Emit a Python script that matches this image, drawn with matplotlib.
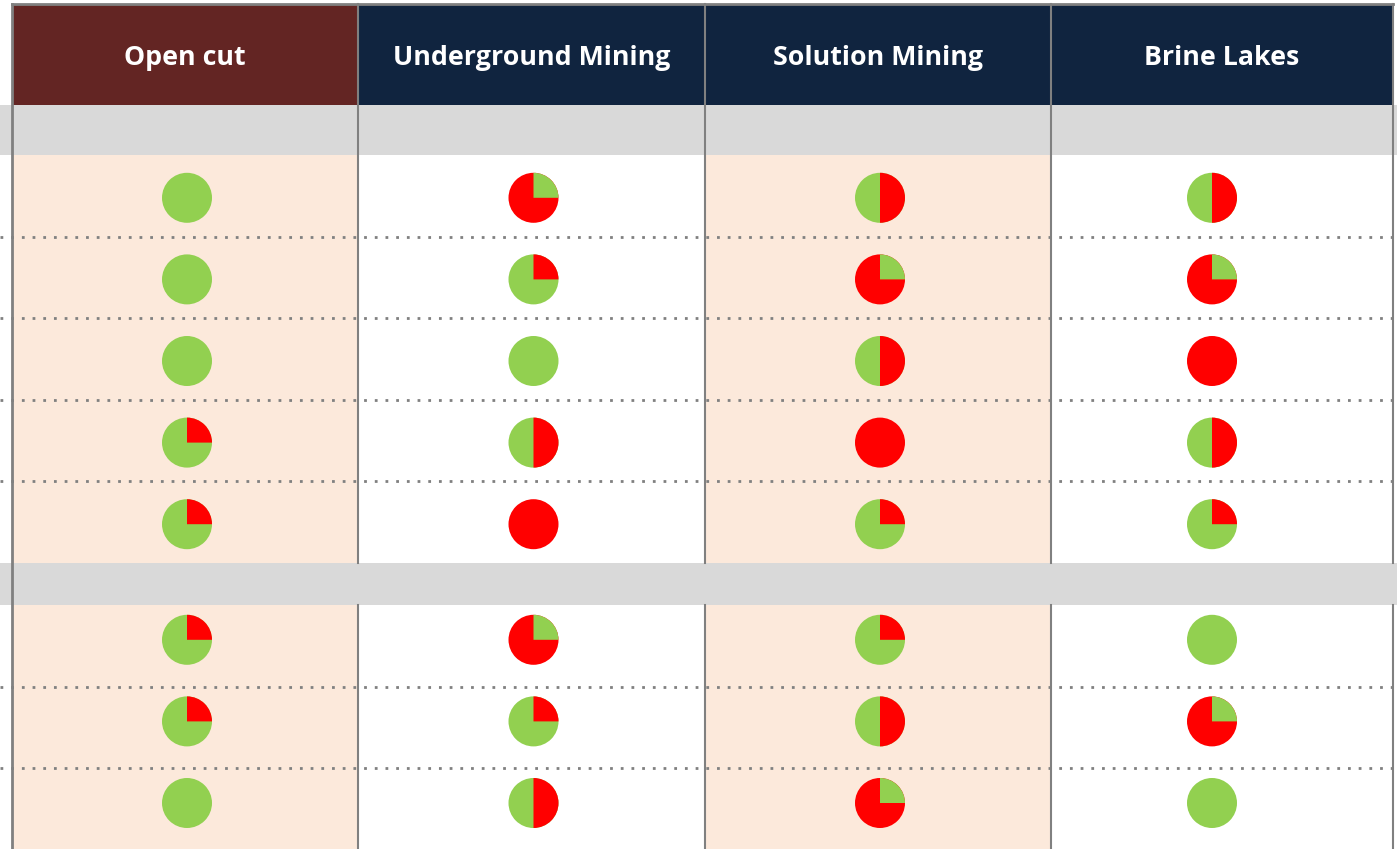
import matplotlib
matplotlib.use("Agg")
import matplotlib.pyplot as plt
from matplotlib.patches import Rectangle, Wedge, Circle

# column headers and red share of each harvey ball (0 = all green, 1 = all red)
methods = ["Open cut", "Underground Mining", "Solution Mining", "Brine Lakes"]
section_a = [
    [0.00, 0.75, 0.50, 0.50],
    [0.00, 0.25, 0.75, 0.75],
    [0.00, 0.00, 0.50, 1.00],
    [0.25, 0.50, 1.00, 0.50],
    [0.25, 1.00, 0.25, 0.25],
]
section_b = [
    [0.25, 0.75, 0.25, 0.00],
    [0.25, 0.25, 0.50, 0.75],
    [0.00, 0.50, 0.75, 0.00],
]

GREEN = "#92D050"
RED = "#FF0000"
PEACH = "#FCE9DB"
BAND = "#D9D9D9"
LINE = "#808080"
HEAD_COLORS = ["#632523", "#10243F", "#10243F", "#10243F"]

W, H = 1397, 849
col_edges = [12, 358, 705, 1051, 1393]
ball_shift = [2, 2, 2, -10]
head_top, head_bot = 5, 105
band1 = (105, 155)
row_h = 81.6
sec_a_top = band1[1]
sec_a_bot = sec_a_top + row_h * len(section_a)
band2 = (sec_a_bot, sec_a_bot + 42)
sec_b_top = band2[1]
R = 25

fig = plt.figure(figsize=(W / 100, H / 100), dpi=100)
ax = fig.add_axes([0, 0, 1, 1])
ax.set_xlim(0, W)
ax.set_ylim(H, 0)
ax.axis("off")


def harvey(ax, cx, cy, red):
    if red <= 0:
        ax.add_patch(Circle((cx, cy), R, color=GREEN, lw=0))
    elif red >= 1:
        ax.add_patch(Circle((cx, cy), R, color=RED, lw=0))
    else:
        # minority colour starts at 12 o'clock, going clockwise
        if red <= 0.5:
            minor, major, frac = RED, GREEN, red
        else:
            minor, major, frac = GREEN, RED, 1 - red
        ax.add_patch(Circle((cx, cy), R, color=major, lw=0))
        # y axis is inverted, so angles run clockwise on screen
        ax.add_patch(Wedge((cx, cy), R, -90, -90 + 360 * frac, color=minor, lw=0))


# header cells
for j, name in enumerate(methods):
    x0, x1 = col_edges[j], col_edges[j + 1]
    ax.add_patch(Rectangle((x0, head_top), x1 - x0, head_bot - head_top,
                           color=HEAD_COLORS[j], lw=0))
    ax.text((x0 + x1) / 2, (head_top + head_bot) / 2 + 3, name, color="white",
            fontsize=19.3, fontweight="bold", family="Open Sans",
            ha="center", va="center")

# grey bands
for b in (band1, band2):
    ax.add_patch(Rectangle((0, b[0]), W, b[1] - b[0], color=BAND, lw=0))

# peach columns
for j in (0, 2):
    x0, x1 = col_edges[j], col_edges[j + 1]
    ax.add_patch(Rectangle((x0, sec_a_top), x1 - x0, sec_a_bot - sec_a_top, color=PEACH, lw=0))
    ax.add_patch(Rectangle((x0, sec_b_top), x1 - x0, H - sec_b_top, color=PEACH, lw=0))

# dotted row separators
for top, n in ((sec_a_top, len(section_a)), (sec_b_top, len(section_b))):
    for i in range(1, n):
        y = top + i * row_h
        ax.plot([0, W], [y, y], color=LINE, lw=2, ls=(0, (1, 2.85)))

# vertical lines
ax.plot([col_edges[0], col_edges[-1]], [4, 4], color=LINE, lw=2)
ax.plot([col_edges[0], col_edges[0]], [4, H], color=LINE, lw=2)
for x in col_edges[1:]:
    ax.plot([x, x], [4, band2[0]], color=LINE, lw=1.5)
    ax.plot([x, x], [band2[1], H], color=LINE, lw=1.5)

# balls
for top, rows, dy in ((sec_a_top, section_a, 2), (sec_b_top, section_b, -6)):
    for i, row in enumerate(rows):
        cy = top + (i + 0.5) * row_h + dy
        for j, red in enumerate(row):
            cx = (col_edges[j] + col_edges[j + 1]) / 2 + ball_shift[j]
            harvey(ax, cx, cy, red)

fig.savefig("out.png", dpi=100)
